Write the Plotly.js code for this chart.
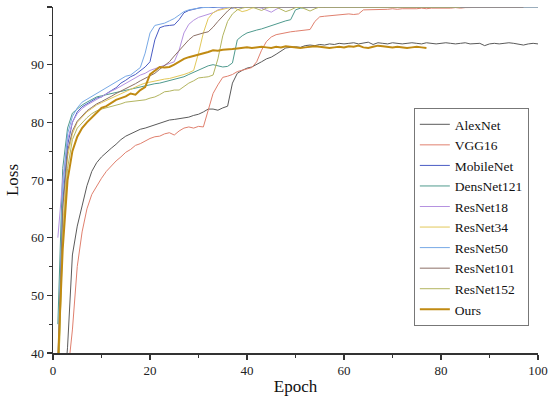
<!DOCTYPE html>
<html>
<head>
<meta charset="utf-8">
<script src="https://cdn.plot.ly/plotly-3.0.1.min.js"></script>
<style>html,body{margin:0;padding:0;background:#fff;}#chart{width:550px;height:396px;}</style>
</head>
<body>
<div id="chart"></div>
<script>
const epochs = [1,2,3,4,5,6,7,8,9,10,11,12,13,14,15,16,17,18,19,20,21,22,23,24,25,26,27,28,29,30,31,32,33,34,35,36,37,38,39,40,41,42,43,44,45,46,47,48,49,50,51,52,53,54,55,56,57,58,59,60,61,62,63,64,65,66,67,68,69,70,71,72,73,74,75,76,77,78,79,80,81,82,83,84,85,86,87,88,89,90,91,92,93,94,95,96,97,98,99,100];

const seriesNames = ["AlexNet","VGG16","MobileNet","DensNet121","ResNet18","ResNet34","ResNet50","ResNet101","ResNet152","Ours"];

const alexnet = [20,30,41,57,62,65.5,69,71.5,73,74,
74.8,75.5,76.2,77,77.6,78,78.5,78.8,79,79.3,
79.5,79.8,80.2,80.4,80.5,80.6,80.8,80.9,81.2,81.4,
81.8,82.3,82.3,82.1,82.5,82.8,86.8,88.5,89,89.4,
89.6,90,90.5,91,91.3,91.8,92.4,92.9,93,93.1,
93,93.3,93.4,93.3,93.5,93.4,93.6,93.5,93.7,93.6,
93.7,93.8,93.6,93.7,93.9,93.5,93.8,93.7,93.6,93.8,
93.7,93.6,93.7,93.8,93.7,93.6,93.8,93.7,93.6,93.7,
93.8,93.7,93.6,93.7,93.8,93.6,93.7,93.7,93.3,93.6,
93.7,93.6,93.7,93.8,93.7,93.6,93.4,93.6,93.7,93.6];

const vgg16 = [15,25,36,44,55,61,65,67.5,69,70.3,
71.5,72.5,73.3,74,74.8,75.3,76,76.3,76.8,77.2,
77.5,77.6,78,78.2,77.8,78.5,79,79.2,79,79.3,
79.2,82,85,86.5,87.8,88,88.3,88.8,89,89.2,
89.5,90.5,92.5,94,94.8,95.2,95.4,95.6,95.7,95.8,
95.9,96,96.1,97.5,98.3,98.4,98.5,98.6,98.6,98.7,
98.8,98.7,98.8,99.5,99.5,99.6,99.5,99.6,99.6,99.7,
99.6,99.7,99.7,99.6,99.7,99.8,99.7,99.8,99.8,99.7,
99.8,99.8,99.9,99.8,99.9,99.9,100,99.9,100,100,
100,99.9,100,100,100,100,100];

const mobilenet = [38,66,76,80,81.8,82.7,83.2,83.7,84.2,84.4,
85,85.5,86,86.8,87.3,87.9,88.3,88.9,89.6,90.5,
94.3,96.4,96.7,96.8,96.9,97.8,99,99.4,99.6,99.8,
100,100,99.9,100,100,100,99.8,100,100,100,
100,100,100,100,100,99.9,100,100,100,100,
100,100,100,100,100,100,100,100,100,100,
100,100,100,100,100,100,100,100,100,100,
100,100,100,100,100,100,100,100,100,100,
100,100,100,100,100,100,100,100,100,100,
100,100,100,100,100,100,100,100,100,100];

const densnet121 = [45,72,79,81.6,82.3,83,83.5,84,84.4,84.6,
84.8,85,85.2,85.3,85.5,85.7,86,86.1,86.3,86.5,
86.7,86.8,87,87.2,87.4,87.6,87.9,88.3,88.7,89,
89.4,89.8,90,89.8,89.6,89.7,90.3,94.3,95,95.5,
95.8,96,96.2,96.5,96.7,97,97.3,97.6,97.8,99.5,
99.8,99.9,100,100,100,100,100,100,100,100,
100,100,100,100,100,100,100,100,100,100,
100,100,100,100,100,100,100,100,100,100,
100,100,100,100,100,100,100,100,100,100,
100,100,100,100,100,100,100,100,100,100];

const resnet18 = [60,70,77,80,81.5,82.4,83,83.5,84,84.5,
85,85.4,85.8,86.3,86.8,87.3,87.8,88.2,88.5,89,
89.3,89.6,89.8,90.2,90.5,92.5,95.5,97,97.7,98.2,
98.5,98.8,99,99.5,99.8,100,100,100,100,100,
100,100,99.8,99.4,99.1,99.6,100,100,100,100,
100,100,100,100,100,100,100,100,100,100,
100,100,100,100,100,100,100,100,100,100,
100,100,100,100,100,100,100,100,100,100,
100,100,100,100,100,100,100,100,100,100,
100,100,100,100,100,100,100,100,100,100];

const resnet34 = [30,62,74,78,80,81,81.8,82.4,83,83.4,
83.8,84.2,84.6,85,85.3,85.8,86.2,86.5,86.8,87,
87.2,87.3,87.5,87.6,87.8,88,88.3,88.6,89,92,
95.5,98,99,99.4,99.6,99.8,100,99.6,99.2,99.4,
99.8,100,100,100,100,100,100,100,100,100,
100,100,100,100,100,100,100,100,100,100,
100,100,100,100,100,100,100,100,100,100,
100,100,100,100,100,100,100,100,100,100,
100,100,100,100,100,100,100,100,100,100,
100,100,100,100,100,100,100,100,100,100];

const resnet50 = [35,68,78,81,82.5,83.5,84,84.5,85,85.5,
86,86.5,87,87.6,88,88.2,88.8,89.5,92,95.5,
96.8,97,97.2,97.6,98,98.6,99.2,99.5,99.7,99.8,
99.9,100,100,100,100,100,100,100,100,100,
100,100,100,100,100,100,100,100,100,100,
100,100,100,100,100,100,100,100,100,100,
100,100,100,100,100,100,100,100,100,100,
100,100,100,100,100,100,100,100,100,100,
100,100,100,100,100,100,100,100,100,100,
100,100,100,100,100,100,100,100,100,100];

const resnet101 = [35,65,75,78.5,80.2,81.2,82,82.6,83.2,83.6,
84,84.5,85,85.4,85.9,86.3,86.7,87.2,87.6,88,
88.5,89.2,89.8,90.5,91.5,92.5,93.5,94.3,95,95.3,
95.5,95.7,96.5,97.5,98.5,99.3,100,100,99.9,100,
100,100,100,100,100,100,100,100,100,100,
100,100,100,100,100,100,100,100,100,100,
100,100,100,100,100,100,100,100,100,100,
100,100,100,100,100,100,100,100,100,100,
100,100,100,100,100,100,100,100,100,100,
100,100,100,100,100,100,100];

const resnet152 = [32,60,72,77,79,80,80.8,81.5,82,82.3,
82.5,82.8,83,83.2,83.5,83.6,83.8,83.9,83.9,84.2,
84.4,84.8,85.3,85.4,85.6,85.6,86.2,86.8,87.2,87.7,
87.8,87.9,88.2,91,95,97.5,98.8,99.5,99.8,100,
100,99.7,99.4,99.8,100,100,99.6,99.2,99.5,99.9,
100,99.6,99.3,99.7,100,100,100,99.9,100,100,
100,100,100,100,100,100,100,100,100,100,
100,100,100,100,100,100,100,100,100,100,
100,100,100,100];

const ours = [38,58,70,75,77.5,79,80,80.8,81.6,82.5,
82.8,83.3,83.9,84.2,84.5,85,84.8,85.6,86.1,88.3,
89,89.6,89.5,89.6,90,90.5,91,91.3,91.5,91.8,
92,92.2,92.5,92.4,92.6,92.6,92.7,92.8,92.9,93,
92.9,93,93.1,93,92.9,93.1,93,93.2,93.1,93,
92.9,93,93.1,93.2,93.1,93,92.9,93,93.1,93,
93.2,93.1,93.3,93,92.9,93.1,93.3,93.2,93.1,93,
93.1,93,92.9,93,93.1,93,92.9];

const values = [alexnet, vgg16, mobilenet, densnet121, resnet18, resnet34, resnet50, resnet101, resnet152, ours];
const colors = ["#5a5a5a","#e0806e","#4a5cc4","#4f9a8e","#b592e0","#e2c85a","#78a9e6","#8c7066","#b3b560","#c08a12"];
const widths = [1,1,1,1,1,1,1,1,1,2];

const traces = seriesNames.map((n, i) => ({
  x: epochs.slice(0, values[i].length),
  y: values[i],
  name: n,
  type: 'scatter',
  mode: 'lines',
  line: {color: colors[i], width: widths[i]}
}));

const font = "Liberation Serif, Times New Roman, serif";
const layout = {
  width: 550, height: 396,
  margin: {l: 53, r: 12, t: 7, b: 43},
  paper_bgcolor: '#fff', plot_bgcolor: '#fff',
  font: {family: font, color: '#222', size: 13},
  showlegend: true,
  legend: {
    x: 0.744, y: 0.708, xanchor: 'left', yanchor: 'top',
    bgcolor: '#fff', bordercolor: '#777', borderwidth: 1,
    font: {family: font, size: 13.5, color: '#111'},
    tracegroupgap: 0
  },
  xaxis: {
    range: [0, 100], dtick: 20, tick0: 0,
    ticks: 'outside', ticklen: 5, tickwidth: 1.2, tickcolor: '#333',
    showline: true, linecolor: '#333', linewidth: 1.5,
    showgrid: false, zeroline: false,
    minor: {ticks: 'outside', ticklen: 3, dtick: 10, tickcolor: '#333', tickwidth: 1.2, showgrid: false},
    tickfont: {family: font, size: 13, color: '#222'},
    title: {text: 'Epoch', font: {family: font, size: 17, color: '#111'}, standoff: 6}
  },
  yaxis: {
    range: [40, 100], dtick: 10, tick0: 40,
    ticks: 'outside', ticklen: 5, tickwidth: 1.2, tickcolor: '#333',
    showline: true, linecolor: '#333', linewidth: 1.5,
    showgrid: false, zeroline: false,
    minor: {ticks: 'outside', ticklen: 3, dtick: 5, tickcolor: '#333', tickwidth: 1.2, showgrid: false},
    tickfont: {family: font, size: 13, color: '#222'},
    title: {text: 'Loss', font: {family: font, size: 17, color: '#111'}, standoff: 8}
  }
};

Plotly.newPlot('chart', traces, layout, {displayModeBar: false, staticPlot: true});
</script>
</body>
</html>
